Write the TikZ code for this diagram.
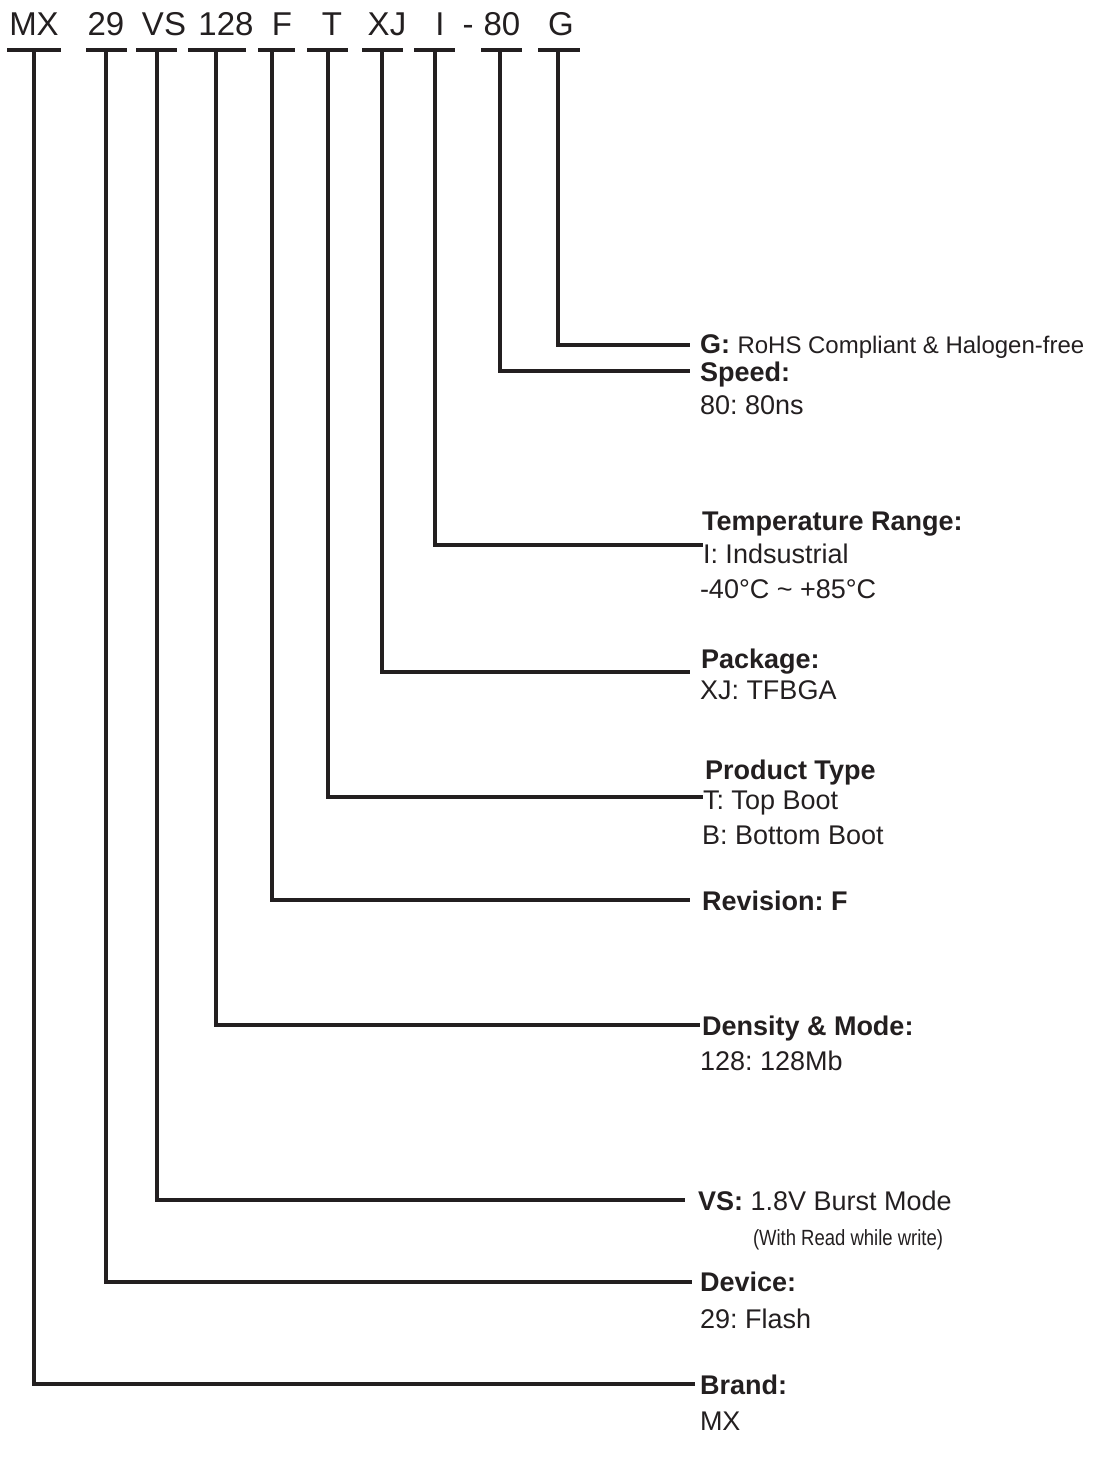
\documentclass[tikz,border=0pt]{standalone}
\usepackage{fontspec}
\setmainfont{Liberation Sans}
\newfontfamily\narrowfont[FakeStretch=0.84]{Liberation Sans}
\usetikzlibrary{positioning, calc}
\definecolor{ink}{HTML}{231F20}
\frenchspacing

\begin{document}
\begin{tikzpicture}[
    x=0.5pt, y=-0.5pt,
    every node/.style={inner sep=0pt, outer sep=0pt, text=ink},
    code/.style={anchor=base, font=\fontsize{16.5}{19}\selectfont},
    lbl/.style={anchor=base west, font=\fontsize{13.5}{16}\selectfont},
    hd/.style={lbl, font=\fontsize{13.5}{16}\selectfont\bfseries},
    bar/.style={draw=ink, line width=1.6pt},
    wire/.style={draw=ink, line width=1.6pt}
]
\useasboundingbox (0,0) rectangle (1100,1457);

% Part number
\node[code] (tMX) at (34,35) {MX};
\node[code] (t29) at (106,35) {29};
\node[code] (tVS) at (164,35) {VS};
\node[code] (t128) at (226,35) {128};
\node[code] (tF) at (282,35) {F};
\node[code] (tT) at (332,35) {T};
\node[code] (tXJ) at (387,35) {XJ};
\node[code] (tI) at (440,35) {I};
\node[code] (tdash) at (468,35) {-};
\node[code] (t80) at (502,35) {80};
\node[code] (tG) at (561,35) {G};

% Bar centres
\coordinate (bMX) at (34,50);
\coordinate (b29) at (106,50);
\coordinate (bVS) at (157,50);
\coordinate (b128) at (216,50);
\coordinate (bF) at (272,50);
\coordinate (bT) at (328,50);
\coordinate (bXJ) at (382,50);
\coordinate (bI) at (435,50);
\coordinate (b80) at (500,50);
\coordinate (bG) at (558,50);

% Bars under the fields
\draw[bar] ($(bMX)+(-27,0)$) -- ($(bMX)+(27,0)$);
\draw[bar] ($(b29)+(-20,0)$) -- ($(b29)+(21,0)$);
\draw[bar] ($(bVS)+(-21,0)$) -- ($(bVS)+(20,0)$);
\draw[bar] ($(b128)+(-28,0)$) -- ($(b128)+(30,0)$);
\draw[bar] ($(bF)+(-14,0)$) -- ($(bF)+(23,0)$);
\draw[bar] ($(bT)+(-21,0)$) -- ($(bT)+(20,0)$);
\draw[bar] ($(bXJ)+(-20,0)$) -- ($(bXJ)+(21,0)$);
\draw[bar] ($(bI)+(-21,0)$) -- ($(bI)+(20,0)$);
\draw[bar] ($(b80)+(-19,0)$) -- ($(b80)+(22,0)$);
\draw[bar] ($(bG)+(-20,0)$) -- ($(bG)+(22,0)$);

% Descriptions
\node[hd] (hG) at (700,353) {G: \fontsize{12}{14}\selectfont\mdseries RoHS Compliant \& Halogen-free};

\node[hd] (hSpeed) at (700,381) {Speed:};
\node[lbl] (xSpeed) at (700,414) {80: 80ns};

\node[hd] (hTemp) at (702,530) {Temperature Range:};
\node[lbl] (xTemp) at (703,563) {I: Indsustrial};
\node[lbl] (yTemp) at (700,598) {-40°C \textasciitilde{} +85°C};

\node[hd] (hPkg) at (701,668) {Package:};
\node[lbl] (xPkg) at (700,699) {XJ: TFBGA};

\node[hd] (hType) at (705,779) {Product Type};
\node[lbl] (xType) at (703,809) {T: Top Boot};
\node[lbl] (yType) at (702,844) {B: Bottom Boot};

\node[hd] (hRev) at (702,910) {Revision: F};

\node[hd] (hDens) at (702,1035) {Density \& Mode:};
\node[lbl] (xDens) at (700,1070) {128: 128Mb};

\node[hd] (hVS) at (698,1210) {VS: \mdseries 1.8V Burst Mode};
\node[anchor=base west, font=\narrowfont\fontsize{11}{13}\selectfont] (xVS) at (753,1245) {(With Read while write)};

\node[hd] (hDev) at (700,1291) {Device:};
\node[lbl] (xDev) at (700,1328) {29: Flash};

\node[hd] (hBrand) at (700,1394) {Brand:};
\node[lbl] (xBrand) at (700,1430) {MX};

% Line ends
\coordinate (eG) at (690,345);
\coordinate (e80) at (690,371);
\coordinate (eI) at (703,545);
\coordinate (eXJ) at (690,672);
\coordinate (eT) at (703,797);
\coordinate (eF) at (690,900);
\coordinate (e128) at (700,1025);
\coordinate (eVS) at (685,1200);
\coordinate (e29) at (692,1282);
\coordinate (eMX) at (695,1384);

% Leader lines
\draw[wire] (bG) |- (eG);
\draw[wire] (b80) |- (e80);
\draw[wire] (bI) |- (eI);
\draw[wire] (bXJ) |- (eXJ);
\draw[wire] (bT) |- (eT);
\draw[wire] (bF) |- (eF);
\draw[wire] (b128) |- (e128);
\draw[wire] (bVS) |- (eVS);
\draw[wire] (b29) |- (e29);
\draw[wire] (bMX) |- (eMX);

\end{tikzpicture}
\end{document}
